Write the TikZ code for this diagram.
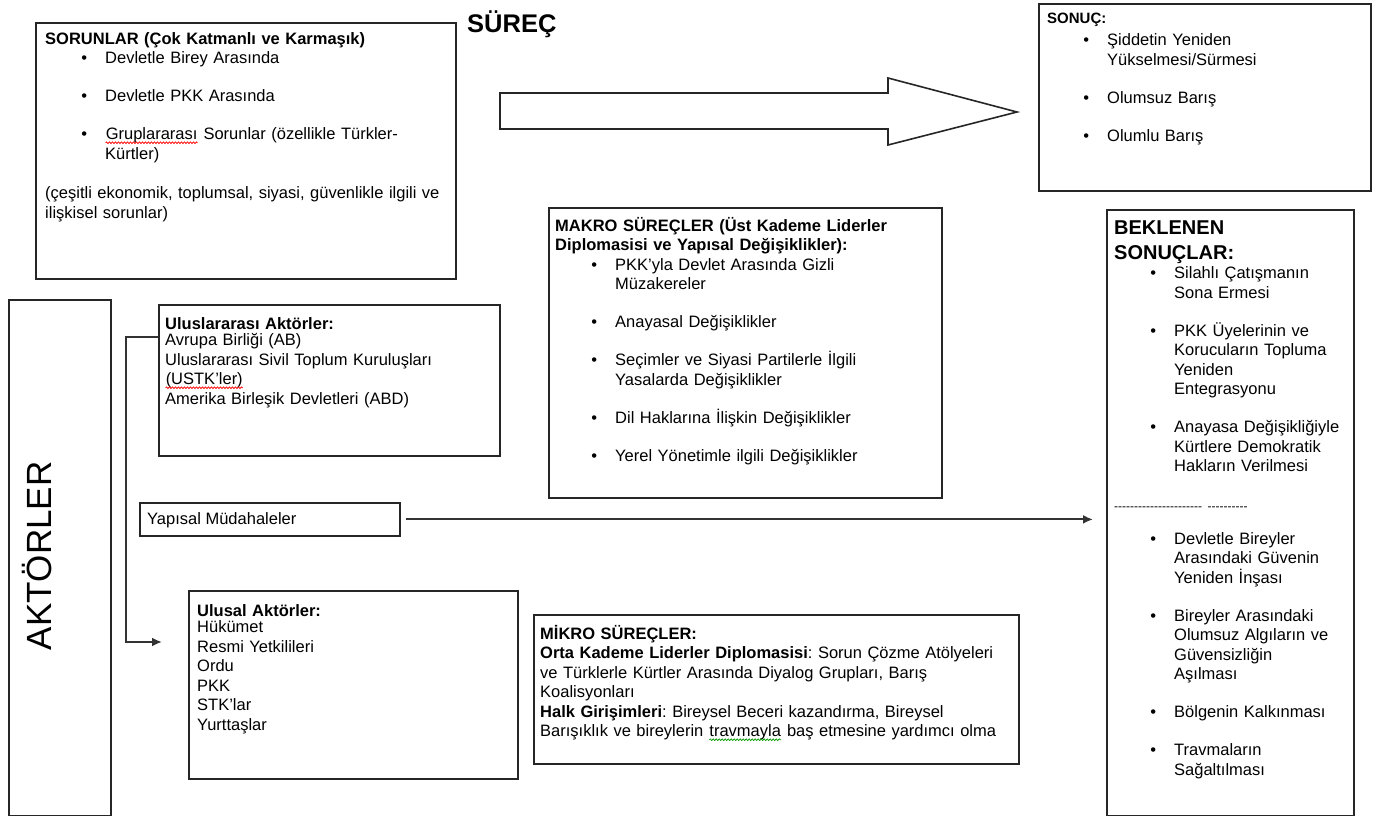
\documentclass[tikz,border=0pt]{standalone}
\usepackage{fontspec}
\setmainfont{Liberation Sans}
\usepackage{enumitem}
\usepackage{tikz}
\usetikzlibrary{arrows.meta,decorations.pathmorphing}
\setlist[itemize]{label=\textbullet, leftmargin=60pt, labelsep=18pt, itemsep=18.5pt, topsep=0pt, parsep=0pt, partopsep=0pt}
\newcommand\spellmark[2]{\tikz[baseline=(w.base)]{\node[inner sep=0pt] (w) {#2};
  \draw[#1, line width=0.7pt, decorate, decoration={snake, amplitude=0.9pt, segment length=3pt}]
    ([yshift=-3pt]w.base west) -- ([yshift=-3pt]w.base east);}}

\begin{document}
\begin{tikzpicture}[x=1pt, y=-1pt,
  box/.style={draw=black!85, line width=1.8pt, anchor=north west, inner sep=0pt},
  txt/.style={anchor=north west, inner sep=0pt, align=left, font=\fontsize{16.5}{19.5}\selectfont\frenchspacing},
  link/.style={draw=black!80, line width=2pt, >={Latex[length=10pt,width=9pt]}}]

\path[use as bounding box] (0,0) rectangle (1378,816);

\node[box, minimum width=420pt, minimum height=256pt] (sorun) at (35,22) {};
\node[box, minimum width=332pt, minimum height=187pt] (sonuc) at (1038,3) {};
\node[box, minimum width=393pt, minimum height=290pt] (makro) at (548,207) {};
\node[box, minimum width=247pt, minimum height=606pt] (beklenen) at (1106,209) {};
\node[box, minimum width=102pt, minimum height=516pt] (aktor) at (8,299) {};
\node[box, minimum width=341pt, minimum height=151pt] (uluslar) at (158,304) {};
\node[box, minimum width=260pt, minimum height=33pt] (yapisal) at (139,502) {};
\node[box, minimum width=329pt, minimum height=188pt] (ulusal) at (188,590) {};
\node[box, minimum width=485pt, minimum height=149pt] (mikro) at (533,614) {};

\node[font=\bfseries\fontsize{25.5}{30}\selectfont, anchor=west, inner sep=0pt] (surec) at (467,24) {SÜREÇ};
\draw[line width=1.6pt, draw=black!85] (500,93) -- (888,93) -- (888,78) -- (1017,112) -- (888,145) -- (888,129) -- (500,129) -- cycle;

\node[txt, text width=410pt] (sorunT) at ([shift={(10,6)}]sorun.north west)
  {\rule{0pt}{16pt}\textbf{SORUNLAR (Çok Katmanlı ve Karmaşık)}
   \begin{itemize}
   \item Devletle Birey Arasında
   \item Devletle PKK Arasında
   \item \spellmark{red}{Gruplararası} Sorunlar (özellikle Türkler-\\Kürtler)
   \end{itemize}
   \vspace{20pt}
   (çeşitli ekonomik, toplumsal, siyasi, güvenlikle ilgili ve\\ilişkisel sorunlar)};

\node[txt, text width=320pt] (sonucT) at ([shift={(9,4)}]sonuc.north west)
  {\rule{0pt}{16pt}{\fontsize{15}{19.5}\selectfont\bfseries SONUÇ:}\par\vspace{3pt}
   \begin{itemize}
   \item Şiddetin Yeniden\\Yükselmesi/Sürmesi
   \item Olumsuz Barış
   \item Olumlu Barış
   \end{itemize}};

\node[txt, text width=390pt] (makroT) at ([shift={(7,8)}]makro.north west)
  {\rule{0pt}{16pt}\textbf{MAKRO SÜREÇLER (Üst Kademe Liderler\\Diplomasisi ve Yapısal Değişiklikler):}
   \begin{itemize}
   \item PKK'yla Devlet Arasında Gizli\\Müzakereler
   \item Anayasal Değişiklikler
   \item Seçimler ve Siyasi Partilerle İlgili\\Yasalarda Değişiklikler
   \item Dil Haklarına İlişkin Değişiklikler
   \item Yerel Yönetimle ilgili Değişiklikler
   \end{itemize}};

\node[txt, text width=240pt] (beklenenT) at ([shift={(8,9)}]beklenen.north west)
  {{\fontsize{20}{25}\selectfont\bfseries\rule{0pt}{16pt}BEKLENEN\\SONUÇLAR:\par}
   \begin{itemize}
   \item Silahlı Çatışmanın\\Sona Ermesi
   \item PKK Üyelerinin ve\\Korucuların Topluma\\Yeniden\\Entegrasyonu
   \item Anayasa Değişikliğiyle\\Kürtlere Demokratik\\Hakların Verilmesi
   \end{itemize}
   \vspace{27pt}
   {\fontsize{12}{12}\selectfont\foreach \i in {1,...,22}{-\kern0pt}\ \foreach \i in {1,...,10}{-\kern0pt}\par}
   \vspace{14pt}
   \begin{itemize}
   \item Devletle Bireyler\\Arasındaki Güvenin\\Yeniden İnşası
   \item Bireyler Arasındaki\\Olumsuz Algıların ve\\Güvensizliğin\\Aşılması
   \item Bölgenin Kalkınması
   \item Travmaların\\Sağaltılması
   \end{itemize}};

\node[rotate=90, font=\fontsize{35}{40}\selectfont, inner sep=0pt] (aktorT) at ([shift={(-23,-2)}]aktor.center) {AKTÖRLER};

\node[txt, text width=330pt] (uluslarT) at ([shift={(7,9)}]uluslar.north west)
  {\rule{0pt}{16pt}\textbf{Uluslararası Aktörler:}\\[-3pt]
   Avrupa Birliği (AB)\\
   Uluslararası Sivil Toplum Kuruluşları\\
   \spellmark{red}{(USTK'ler)}\\
   Amerika Birleşik Devletleri (ABD)};

\node[txt] (yapisalT) at ([shift={(8,6)}]yapisal.north west) {\rule{0pt}{16pt}Yapısal Müdahaleler};

\node[txt, text width=320pt] (ulusalT) at ([shift={(9,10)}]ulusal.north west)
  {\rule{0pt}{16pt}\textbf{Ulusal Aktörler:}\\[-3pt]
   Hükümet\\
   Resmi Yetkilileri\\
   Ordu\\
   PKK\\
   STK'lar\\
   Yurttaşlar};

\node[txt, text width=480pt] (mikroT) at ([shift={(7,9)}]mikro.north west)
  {\rule{0pt}{16pt}\textbf{MİKRO SÜREÇLER:}\\
   \textbf{Orta Kademe Liderler Diplomasisi}: Sorun Çözme Atölyeleri\\
   ve Türklerle Kürtler Arasında Diyalog Grupları, Barış\\
   Koalisyonları\\
   \textbf{Halk Girişimleri}: Bireysel Beceri kazandırma, Bireysel\\
   Barışıklık ve bireylerin \spellmark{green!60!black}{travmayla} baş etmesine yardımcı olma};

\coordinate (ulusalIn) at ([shift={(-26,52)}]ulusal.north west);
\coordinate (bekIn) at ([xshift=-13pt]beklenen.west);
\draw[link,->] ([shift={(0,33)}]uluslar.north west) -- ++(-32,0) |- (ulusalIn);
\draw[link,->] ([xshift=5pt]yapisal.east) -- (yapisal.east -| bekIn);
\end{tikzpicture}
\end{document}
